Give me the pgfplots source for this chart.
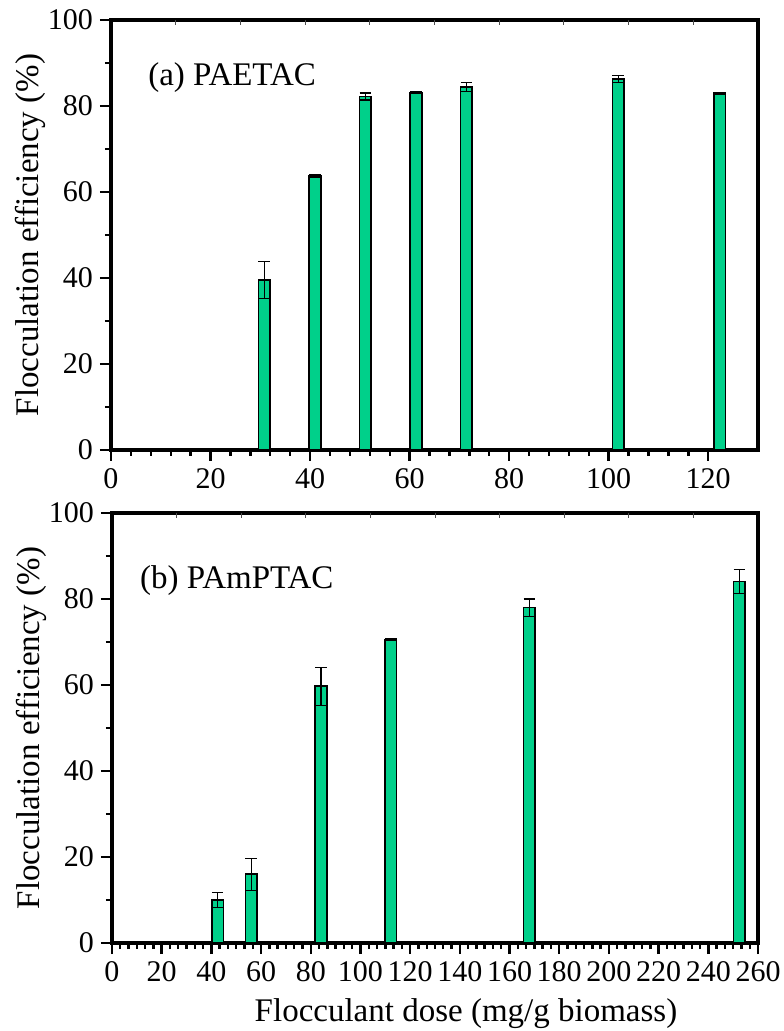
\documentclass[border=0pt]{standalone}
\usepackage{pgfplots}
\pgfplotsset{compat=1.18}
\usepackage{pgfplotstable}
\usepackage{fontspec}
\setmainfont{Liberation Serif}
\definecolor{barfill}{RGB}{0,208,138}

% dose (mg/g), flocculation efficiency (%), error
\pgfplotstableread{
x     y    e
30.8  39.5 4.3
41.0  63.8 0.3
51.1  82.2 0.8
61.3  83.1 0.2
71.4  84.4 1.1
101.9 86.3 0.8
122.3 83.0 0.2
}\paetac

\pgfplotstableread{
x     y    e
42.5  10.0 1.8
56.0  16.0 3.7
84.1  59.7 4.4
112.2 70.6 0.3
168.0 78.0 2.0
252.5 84.1 2.8
}\pamptac

\pgfplotsset{
  panel/.style={
    scale only axis, height=215pt,
    ymin=0, ymax=100, ytick={0,20,...,100}, minor y tick num=1,
    tick align=outside, xtick pos=bottom, ytick pos=left,
    major tick length=5.5pt, minor tick length=3pt,
    tick style={black, line width=1.2pt},
    axis line style={line width=1.6pt},
    tick label style={font=\fontsize{15}{18}\selectfont},
    label style={font=\fontsize{16.5}{20}\selectfont},
    /pgf/number format/assume math mode=true,
    ylabel={Flocculation efficiency (\%)},
    ylabel style={at={(axis description cs:-0.1252,0.5)}, anchor=center},
    ybar, bar width=5.8pt,
  },
  bars/.style={
    fill=barfill, draw=black, line width=0.8pt,
    error bars/.cd, y dir=both, y explicit,
    error bar style={black, line width=0.6pt},
    error mark options={rotate=90, black, line width=0.6pt, mark size=2.9pt},
  },
  toptick/.style={
    scale only axis, height=215pt, ymin=0, ymax=100,
    axis x line*=top, axis y line=none,
    xticklabels={}, tick align=inside, major tick length=2.5pt,
    tick style={black!70, line width=0.5pt},
    axis line style={draw=none},
  },
}

\begin{document}
\begin{tikzpicture}
  % (a) PAETAC
  \begin{axis}[panel, width=323.5pt,
      xmin=0, xmax=130, xtick={0,20,...,120}, minor x tick num=4]
    \addplot[bars] table[x=x, y=y, y error=e] {\paetac};
    \node[anchor=west, inner sep=0pt, font=\fontsize{16.5}{20}\selectfont]
      at (rel axis cs:0.057,0.865) {(a) PAETAC};
  \end{axis}
  \begin{axis}[toptick, width=323.5pt, xmin=0, xmax=130, xtick={13,26,...,117}]
  \end{axis}

  % (b) PAmPTAC
  \begin{axis}[panel, width=323pt, at={(0.5pt,-246.5pt)},
      xmin=0, xmax=260, xtick={0,20,...,260}, minor x tick num=5,
      xlabel={Flocculant dose (mg/g biomass)},
      xlabel style={at={(axis description cs:0.5,0)}, anchor=center, xshift=15.5pt, yshift=-35.5pt}]
    \addplot[bars] table[x=x, y=y, y error=e] {\pamptac};
    \node[anchor=west, inner sep=0pt, font=\fontsize{16.5}{20}\selectfont]
      at (rel axis cs:0.043,0.843) {(b) PAmPTAC};
  \end{axis}
  \begin{axis}[toptick, width=323pt, at={(0.5pt,-246.5pt)}, xmin=0, xmax=260, xtick={26,52,...,234}]
  \end{axis}

  \pgfresetboundingbox
  \useasboundingbox (-55.5pt,-290.5pt) rectangle (336pt,225pt);
\end{tikzpicture}
\end{document}
